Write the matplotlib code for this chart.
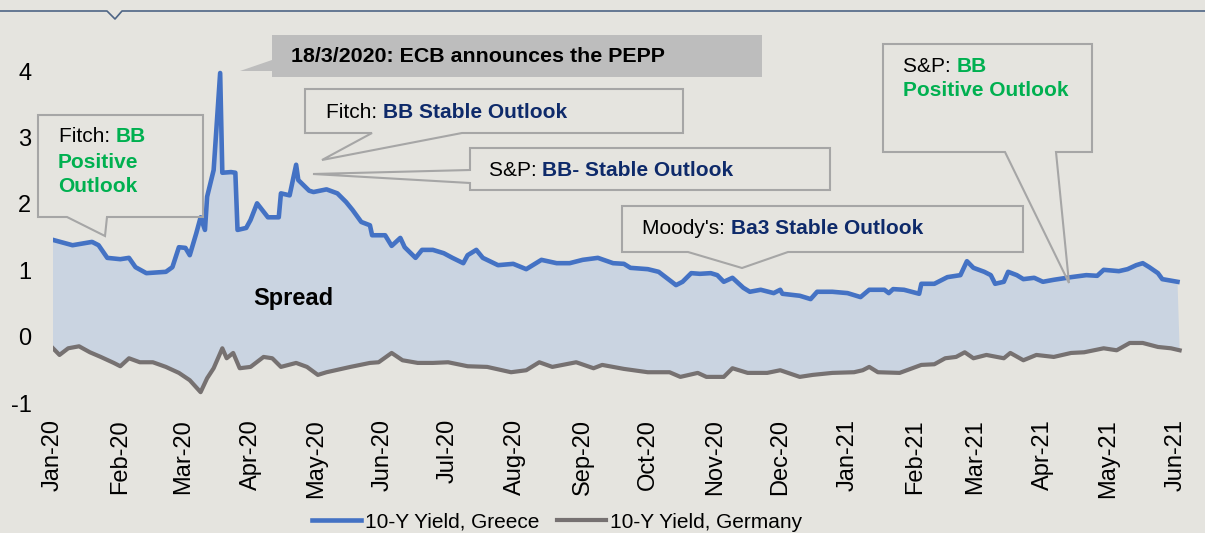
import numpy as np
import matplotlib as mpl
mpl.use('Agg')
import matplotlib.pyplot as plt
import matplotlib.dates as mdates
from matplotlib.patches import Polygon
from matplotlib.lines import Line2D

plt.rcParams['font.family'] = ['Liberation Sans', 'DejaVu Sans']
plt.rcParams['axes.unicode_minus'] = False

# 10-year yields (%)
greece_dates = ['2020-01-01', '2020-01-10', '2020-01-19', '2020-01-22', '2020-01-26', '2020-02-01',
                '2020-02-05', '2020-02-08', '2020-02-13', '2020-02-22', '2020-02-25', '2020-02-28',
                '2020-03-02', '2020-03-04', '2020-03-07', '2020-03-09', '2020-03-11', '2020-03-12',
                '2020-03-15', '2020-03-18', '2020-03-19', '2020-03-23', '2020-03-25', '2020-03-26',
                '2020-03-30', '2020-04-01', '2020-04-04', '2020-04-09', '2020-04-14', '2020-04-15',
                '2020-04-19', '2020-04-22', '2020-04-23', '2020-04-28', '2020-04-30', '2020-05-06',
                '2020-05-11', '2020-05-15', '2020-05-18', '2020-05-22', '2020-05-26', '2020-05-27',
                '2020-06-02', '2020-06-05', '2020-06-09', '2020-06-11', '2020-06-16', '2020-06-19',
                '2020-06-24', '2020-06-29', '2020-07-03', '2020-07-08', '2020-07-10', '2020-07-14',
                '2020-07-17', '2020-07-24', '2020-07-31', '2020-08-06', '2020-08-13', '2020-08-20',
                '2020-08-26', '2020-09-01', '2020-09-08', '2020-09-15', '2020-09-20', '2020-09-23',
                '2020-10-01', '2020-10-06', '2020-10-14', '2020-10-17', '2020-10-21', '2020-10-25',
                '2020-10-30', '2020-11-02', '2020-11-05', '2020-11-09', '2020-11-14', '2020-11-17',
                '2020-11-22', '2020-11-28', '2020-12-01', '2020-12-02', '2020-12-10', '2020-12-15',
                '2020-12-18', '2020-12-25', '2021-01-01', '2021-01-07', '2021-01-11', '2021-01-18',
                '2021-01-20', '2021-01-22', '2021-01-27', '2021-02-03', '2021-02-04', '2021-02-10',
                '2021-02-16', '2021-02-22', '2021-02-25', '2021-02-28', '2021-03-05', '2021-03-08',
                '2021-03-10', '2021-03-14', '2021-03-16', '2021-03-20', '2021-03-23', '2021-03-28',
                '2021-04-01', '2021-04-06', '2021-04-14', '2021-04-21', '2021-04-26', '2021-04-29',
                '2021-05-06', '2021-05-10', '2021-05-14', '2021-05-17', '2021-05-20', '2021-05-24',
                '2021-05-26', '2021-06-02']
greece_yield = [1.46, 1.38, 1.43, 1.38, 1.19, 1.17,
                1.19, 1.05, 0.96, 0.98, 1.05, 1.35,
                1.34, 1.23, 1.56, 1.80, 1.61, 2.11,
                2.51, 3.97, 2.47, 2.48, 2.47, 1.61,
                1.64, 1.76, 2.01, 1.80, 1.80, 2.16,
                2.13, 2.59, 2.36, 2.20, 2.18, 2.22,
                2.16, 2.03, 1.91, 1.73, 1.68, 1.53,
                1.53, 1.37, 1.49, 1.35, 1.19, 1.31,
                1.31, 1.26, 1.19, 1.11, 1.23, 1.31,
                1.19, 1.08, 1.10, 1.02, 1.16, 1.11,
                1.11, 1.16, 1.19, 1.11, 1.10, 1.04,
                1.02, 0.98, 0.78, 0.83, 0.96, 0.95,
                0.96, 0.93, 0.83, 0.89, 0.74, 0.68,
                0.71, 0.66, 0.71, 0.65, 0.62, 0.57,
                0.68, 0.68, 0.66, 0.60, 0.71, 0.71,
                0.66, 0.72, 0.71, 0.65, 0.80, 0.80,
                0.90, 0.93, 1.14, 1.04, 0.98, 0.93,
                0.80, 0.83, 0.98, 0.93, 0.87, 0.89,
                0.83, 0.86, 0.90, 0.93, 0.92, 1.01,
                0.99, 1.02, 1.08, 1.11, 1.05, 0.96,
                0.87, 0.83]

germany_dates = ['2020-01-01', '2020-01-04', '2020-01-08', '2020-01-13', '2020-01-18', '2020-01-23',
                 '2020-01-29', '2020-02-01', '2020-02-05', '2020-02-10', '2020-02-16', '2020-02-22',
                 '2020-02-28', '2020-03-04', '2020-03-09', '2020-03-12', '2020-03-15', '2020-03-19',
                 '2020-03-21', '2020-03-24', '2020-03-27', '2020-04-01', '2020-04-07', '2020-04-11',
                 '2020-04-15', '2020-04-22', '2020-04-27', '2020-05-02', '2020-05-06', '2020-05-17',
                 '2020-05-26', '2020-05-30', '2020-06-05', '2020-06-10', '2020-06-17', '2020-06-24',
                 '2020-07-01', '2020-07-10', '2020-07-19', '2020-07-30', '2020-08-06', '2020-08-12',
                 '2020-08-18', '2020-08-29', '2020-09-06', '2020-09-10', '2020-09-20', '2020-10-01',
                 '2020-10-11', '2020-10-16', '2020-10-24', '2020-10-28', '2020-11-05', '2020-11-09',
                 '2020-11-16', '2020-11-25', '2020-12-01', '2020-12-10', '2020-12-16', '2020-12-25',
                 '2021-01-04', '2021-01-08', '2021-01-11', '2021-01-15', '2021-01-25', '2021-02-04',
                 '2021-02-10', '2021-02-15', '2021-02-20', '2021-02-24', '2021-02-28', '2021-03-06',
                 '2021-03-14', '2021-03-17', '2021-03-23', '2021-03-29', '2021-04-06', '2021-04-14',
                 '2021-04-20', '2021-04-29', '2021-05-05', '2021-05-11', '2021-05-17', '2021-05-24',
                 '2021-05-30', '2021-06-03']
germany_yield = [-0.17, -0.27, -0.17, -0.14, -0.23, -0.30,
                 -0.39, -0.44, -0.32, -0.38, -0.38, -0.45,
                 -0.54, -0.65, -0.83, -0.62, -0.47, -0.17,
                 -0.32, -0.24, -0.47, -0.45, -0.30, -0.32,
                 -0.45, -0.39, -0.45, -0.57, -0.53, -0.45,
                 -0.39, -0.38, -0.24, -0.35, -0.39, -0.39,
                 -0.38, -0.44, -0.45, -0.53, -0.50, -0.38,
                 -0.45, -0.38, -0.47, -0.42, -0.48, -0.53,
                 -0.53, -0.60, -0.54, -0.60, -0.60, -0.47,
                 -0.54, -0.54, -0.50, -0.60, -0.57, -0.54,
                 -0.53, -0.50, -0.45, -0.53, -0.54, -0.42,
                 -0.41, -0.32, -0.30, -0.23, -0.32, -0.27,
                 -0.32, -0.24, -0.35, -0.27, -0.30, -0.24,
                 -0.23, -0.17, -0.20, -0.09, -0.09, -0.15,
                 -0.17, -0.20]

series_labels = ['10-Y Yield, Greece', '10-Y Yield, Germany']
y_ticks = [-1, 0, 1, 2, 3, 4]

BG = '#E5E4DF'
BLUE = '#4472C4'
GREY = '#767171'
GREEN = '#00B050'
NAVY = '#0E2A6A'
BOX = '#A6A6A6'

W, H = 1205, 533
fig = plt.figure(figsize=(W / 100, H / 100), dpi=100, facecolor=BG)
ax = fig.add_axes([53 / W, 1 - 410 / H, 1131 / W, 390 / H])
ax.set_facecolor('none')

gx = np.array(greece_dates, dtype='datetime64[D]')
dx = np.array(germany_dates, dtype='datetime64[D]')
gy = np.array(greece_yield)
dy = np.array(germany_yield)

# spread area between the two curves
ax.fill(np.concatenate([gx, dx[::-1]]), np.concatenate([gy, dy[::-1]]),
        color='#CAD4E1', lw=0, zorder=1)
g, = ax.plot(gx, gy, color=BLUE, lw=3.3, solid_joinstyle='round', zorder=4)
d, = ax.plot(dx, dy, color=GREY, lw=3.0, solid_joinstyle='round', zorder=4)

ax.set_xlim(np.datetime64('2020-01-01'), np.datetime64('2021-06-05'))
ax.set_ylim(-1.098, 4.767)
ax.set_yticks(y_ticks)
ax.xaxis.set_major_locator(mdates.MonthLocator())
ax.xaxis.set_major_formatter(mdates.DateFormatter('%b-%y'))
ax.tick_params(axis='x', length=0, pad=6.5, labelsize=17, rotation=90)
ax.tick_params(axis='y', length=0, pad=15.5, labelsize=17)
for s in ax.spines.values():
    s.set_visible(False)

fig.legend([g, d], series_labels, loc='center', ncol=2, frameon=False, fontsize=15,
           bbox_to_anchor=(557 / W, 1 - 522 / H), handlelength=2.35, handletextpad=0.2,
           columnspacing=0.85, borderpad=0)


def px(x, y):
    return (x / W, 1 - y / H)


# top frame line with the small notch
fx = [0, 107, 115, 122, W]
fy = [11, 11, 19, 11, 11]
fig.add_artist(Line2D([a / W for a in fx], [1 - b / H for b in fy], color='#4E6585', lw=1.2))


def callout(pts, face='none', edge=BOX):
    fig.add_artist(Polygon([px(*p) for p in pts], closed=True, facecolor=face,
                           edgecolor=edge, lw=1.5, zorder=2, transform=fig.transFigure))


def rich(x, y, parts, size=15):
    t = fig.text(*px(x, y), parts[0][0], color=parts[0][1], weight=parts[0][2],
                 fontsize=size, ha='left', va='center', zorder=5)
    for s, c, w in parts[1:]:
        t = ax.annotate(s, xy=(1, 0), xycoords=t, color=c, weight=w, fontsize=size,
                        ha='left', va='bottom', annotation_clip=False, zorder=5)


callout([(38, 115), (203, 115), (203, 217), (107, 217), (105, 236), (67, 217), (38, 217)])
callout([(272, 35), (762, 35), (762, 77), (272, 77), (272, 71), (240, 71), (272, 60)],
        face='#BDBDBD', edge='none')
callout([(305, 89), (683, 89), (683, 133), (462, 133), (322, 160), (372, 133), (305, 133)])
callout([(470, 148), (830, 148), (830, 190), (470, 190), (470, 183), (313, 174), (470, 170)])
callout([(622, 206), (1023, 206), (1023, 252), (788, 252), (742, 268), (688, 252), (622, 252)])
callout([(883, 44), (1092, 44), (1092, 152), (1056, 152), (1069, 283), (1005, 152), (883, 152)])

rich(59, 137, [('Fitch: ', 'black', 'normal'), ('BB', GREEN, 'bold')])
rich(58, 162, [('Positive', GREEN, 'bold')])
rich(58, 187, [('Outlook', GREEN, 'bold')])
rich(291, 56, [('18/3/2020: ECB announces the PEPP', 'black', 'bold')], size=15.4)
rich(326, 112, [('Fitch: ', 'black', 'normal'), ('BB Stable Outlook', NAVY, 'bold')])
rich(489, 170, [('S&P: ', 'black', 'normal'), ('BB- Stable Outlook', NAVY, 'bold')])
rich(642, 228, [("Moody's: ", 'black', 'normal'), ('Ba3 Stable Outlook', NAVY, 'bold')])
rich(903, 67, [('S&P: ', 'black', 'normal'), ('BB', GREEN, 'bold')])
rich(903, 91, [('Positive Outlook', GREEN, 'bold')])

fig.text(*px(293, 298), 'Spread', fontsize=17, weight='bold', ha='center', va='center')

fig.savefig('out.png', dpi=100, facecolor=BG)
